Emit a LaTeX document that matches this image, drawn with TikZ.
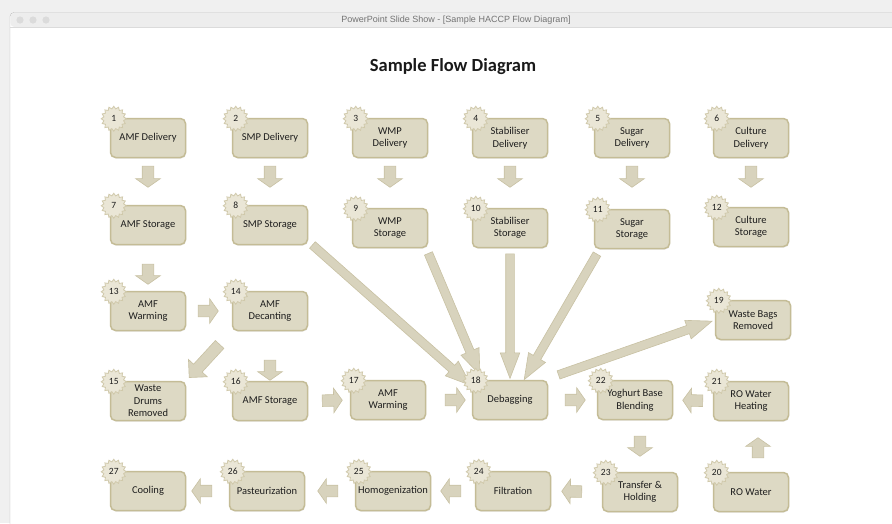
\documentclass[tikz,border=0pt]{standalone}
\usepackage{fontspec}
\setmainfont{Carlito}
\newfontfamily\barfont{Liberation Sans}
\usepackage{tikz}
\usetikzlibrary{arrows.meta,calc,shapes.geometric,shapes.arrows,shadows}
\definecolor{tan}{RGB}{221,217,196}
\definecolor{tanline}{RGB}{196,188,150}
\definecolor{burst}{RGB}{234,230,214}
\definecolor{arrfill}{RGB}{216,211,189}
\definecolor{arrline}{RGB}{200,193,163}
\definecolor{ink}{RGB}{30,30,30}
\newcommand{\flowarrow}[5][stubarr]{%
  \path let \p1=($#2!#4!#3$),\p2=($#2!#5!#3$),\n1={atan2(\y2-\y1,\x2-\x1)},\n2={veclen(\x2-\x1,\y2-\y1)} in
    node[#1,rotate=\n1,minimum height=\n2] at ($(\p1)!0.5!(\p2)$) {};}

\begin{document}
\begin{tikzpicture}[x=1pt,y=1pt]
\tikzset{stepbox/.style={draw=tanline,line width=1.5pt,fill=tan,rounded corners=5pt,minimum width=75pt,minimum height=39pt,inner sep=2pt,align=center,text=ink,font=\fontsize{10.5}{12.5}\selectfont,drop shadow={opacity=.18,shadow xshift=.6pt,shadow yshift=-1pt}},
  badge/.style={star,star points=16,star point ratio=1.25,minimum size=25pt,inner sep=0pt,draw=tanline!80,line width=.8pt,fill=burst,text=ink,font=\fontsize{9.5}{9.5}\selectfont},
  stubarr/.style={single arrow,draw=arrline,fill=arrfill,line width=.6pt,inner xsep=0pt,inner ysep=5.5pt,single arrow head extend=6.5pt,single arrow tip angle=110,minimum width=0pt},
  longarr/.style={stubarr,inner ysep=4pt,single arrow head extend=5.5pt,single arrow tip angle=42},
  diagarr/.style={stubarr,inner ysep=5.5pt,single arrow head extend=7pt,single arrow tip angle=90}}
\useasboundingbox (0,0) rectangle (892,-523);
\fill[black!6] (0,0) rectangle (892,-523);
\draw[black!28,fill=white,rounded corners=4pt] (10,-540) -- (10,-12.5) -- (905,-12.5) -- (905,-540);
\fill[black!7,rounded corners=4pt] (10.4,-27) -- (10.4,-12.9) -- (905,-12.9) -- (905,-27) -- cycle;
\draw[black!14] (10.4,-27) -- (892,-27);
\fill[black!14] (20,-20) circle (3.6) (33,-20) circle (3.6) (46,-20) circle (3.6);
\node[font=\barfont\fontsize{9}{9}\selectfont,text=black!55] (bar) at (456,-20) {PowerPoint Slide Show - [Sample HACCP Flow Diagram]};
\node[font=\bfseries\fontsize{18.5}{20}\selectfont,text=black!90] (title) at (453,-67) {Sample Flow Diagram};

\node[stepbox] (s1) at (148,-138) {AMF Delivery};
\node[stepbox] (s2) at (270,-138) {SMP Delivery};
\node[stepbox] (s3) at (390,-138) {WMP\\Delivery};
\node[stepbox] (s4) at (510,-138) {Stabiliser\\Delivery};
\node[stepbox] (s5) at (632,-138) {Sugar\\Delivery};
\node[stepbox] (s6) at (751,-138) {Culture\\Delivery};
\node[stepbox] (s7) at (148,-225) {AMF Storage};
\node[stepbox] (s8) at (270,-225) {SMP Storage};
\node[stepbox] (s9) at (390,-228) {WMP\\Storage};
\node[stepbox] (s10) at (510,-228) {Stabiliser\\Storage};
\node[stepbox] (s11) at (632,-229) {Sugar\\Storage};
\node[stepbox] (s12) at (751,-227) {Culture\\Storage};
\node[stepbox] (s13) at (148,-311) {AMF\\Warming};
\node[stepbox] (s14) at (270,-311) {AMF\\Decanting};
\node[stepbox] (s19) at (753,-320) {Waste Bags\\Removed};
\node[stepbox] (s15) at (148,-401) {Waste\\Drums\\Removed};
\node[stepbox] (s16) at (270,-401) {AMF Storage};
\node[stepbox] (s17) at (388,-400) {AMF\\Warming};
\node[stepbox] (s18) at (510,-400) {Debagging};
\node[stepbox] (s22) at (635,-400) {Yoghurt Base\\Blending};
\node[stepbox] (s21) at (751,-401) {RO Water\\Heating};
\node[stepbox] (s27) at (148,-491) {Cooling};
\node[stepbox] (s26) at (267,-491) {Pasteurization};
\node[stepbox] (s25) at (393,-491) {Homogenization};
\node[stepbox] (s24) at (513,-491) {Filtration};
\node[stepbox] (s23) at (640,-492) {Transfer \&\\Holding};
\node[stepbox] (s20) at (751,-492) {RO Water};

\foreach \i in {1,...,6}{\pgfmathtruncatemacro\j{\i+6}
  \flowarrow{(s\i.south)}{(s\j.north)}{6pt}{27pt}}
\flowarrow{(s7.south)}{(s13.north)}{17pt}{37pt}
\flowarrow{(s13.east)}{(s14.west)}{10pt}{30pt}
\flowarrow[diagarr]{(s14.south west)}{(s15.north east)}{15pt}{60pt}
\flowarrow{(s14.south)}{(s16.north)}{27pt}{47pt}
\flowarrow{(s16.east)}{(s17.west)}{12pt}{32pt}
\flowarrow{(s17.east)}{(s18.west)}{17pt}{37pt}
\flowarrow{(s18.east)}{(s22.west)}{15pt}{35pt}
\flowarrow{(s21.west)}{(s22.east)}{8pt}{28pt}
\coordinate (u20) at ($(s20.north)+(7,0)$);
\coordinate (u21) at ($(s21.south)+(7,0)$);
\flowarrow{(u20)}{(u21)}{12pt}{32pt}
\coordinate (d22) at ($(s22.south)+(5,0)$);
\flowarrow{(d22)}{(s23.north)}{14pt}{34pt}
\flowarrow{(s23.west)}{(s24.east)}{18pt}{38pt}
\flowarrow{(s24.west)}{(s25.east)}{12pt}{32pt}
\flowarrow{(s25.west)}{(s26.east)}{15pt}{35pt}
\flowarrow{(s26.west)}{(s27.east)}{15pt}{35pt}

\coordinate (t8) at ($(s8.south east)+(0,4)$);
\coordinate (h8) at ($(s18.north west)+(-5,-2)$);
\coordinate (t9) at ($(s9.south east)+(-2,0)$);
\coordinate (h9) at ($(s18.north west)+(6,10)$);
\coordinate (t10) at (s10.south);
\coordinate (h10) at ($(s18.north)+(0,7)$);
\coordinate (t11) at ($(s11.south west)+(6,0)$);
\coordinate (h11) at ($(s18.north)+(17,5)$);
\coordinate (t18) at ($(s18.north east)+(5,3)$);
\coordinate (h19) at ($(s19.west)+(-8,-3)$);
\flowarrow[longarr]{(t8)}{(h8)}{0}{1}
\flowarrow[longarr]{(t9)}{(h9)}{0}{1}
\flowarrow[longarr]{(t10)}{(h10)}{0}{1}
\flowarrow[longarr]{(t11)}{(h11)}{0}{1}
\flowarrow[longarr]{(t18)}{(h19)}{0}{1}

\foreach \i in {1,...,27}
  \node[badge] (k\i) at ($(s\i.north west)+(4,-1)$) {\i};
\end{tikzpicture}
\end{document}
